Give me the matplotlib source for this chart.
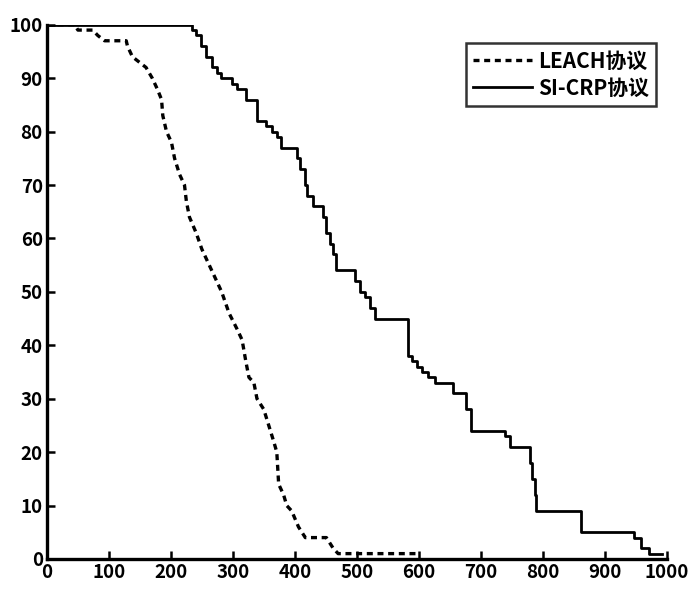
import matplotlib
matplotlib.use("Agg")
import matplotlib.pyplot as plt
from matplotlib import rcParams

rcParams["font.family"] = ["Liberation Sans Narrow", "Noto Sans CJK SC", "DejaVu Sans"]
rcParams["font.weight"] = "bold"

# LEACH protocol: surviving nodes vs. rounds
leach_x = [0, 45, 50, 74, 82, 93, 128, 130, 138, 149, 160, 170, 178, 185, 187,
           193, 201, 206, 214, 222, 225, 230, 241, 250, 258, 266, 274, 282,
           294, 307, 315, 321, 326, 334, 339, 350, 358, 366, 371, 374, 382,
           387, 395, 406, 417, 451, 462, 470, 600]
leach_y = [100, 100, 99, 99, 98, 97, 97, 96, 94, 93, 92, 90, 88, 86, 83,
           80, 78, 75, 72, 70, 67, 64, 61, 58, 56, 54, 52, 50,
           46, 43, 41, 37, 34, 33, 30, 28, 25, 22, 20, 14, 12,
           10, 9, 6, 4, 4, 2, 1, 1]

# SI-CRP protocol (step curve)
sicrp_x = [0, 234, 241, 249, 257, 266, 274, 281, 299, 307, 321, 339, 353, 363,
           371, 377, 403, 409, 417, 419, 430, 446, 451, 457, 462, 466, 498,
           506, 514, 522, 530, 583, 590, 598, 606, 615, 626, 636, 655, 677,
           684, 740, 748, 780, 783, 787, 790, 862, 948, 958, 971, 992]
sicrp_y = [100, 99, 98, 96, 94, 92, 91, 90, 89, 88, 86, 82, 81, 80,
           79, 77, 75, 73, 70, 68, 66, 64, 61, 59, 57, 54, 52,
           50, 49, 47, 45, 38, 37, 36, 35, 34, 33, 33, 31, 28,
           24, 23, 21, 18, 15, 12, 9, 5, 4, 2, 1, 1]

x_ticks = list(range(0, 1001, 100))
y_ticks = list(range(0, 101, 10))

fig = plt.figure(figsize=(6.9, 5.89), dpi=100)
ax = fig.add_axes([0.068, 0.051, 0.898, 0.907])

ax.plot(leach_x, leach_y, color="black", lw=2.4, linestyle=(0, (1.8, 1.4)),
        label="LEACH协议")
ax.plot(sicrp_x, sicrp_y, color="black", lw=2.0, drawstyle="steps-post",
        label="SI-CRP协议")

ax.set_xlim(0, 1000)
ax.set_ylim(0, 100)
ax.set_xticks(x_ticks)
ax.set_yticks(y_ticks)
ax.tick_params(direction="in", length=6, width=1.8, labelsize=13.5, pad=3)
for lab in ax.get_xticklabels() + ax.get_yticklabels():
    lab.set_fontweight("bold")

ax.spines["top"].set_visible(False)
ax.spines["right"].set_visible(False)
ax.spines["left"].set_linewidth(2.4)
ax.spines["bottom"].set_linewidth(2.4)

leg = ax.legend(loc="upper right", bbox_to_anchor=(1.0, 0.985), fontsize=15,
                frameon=True, fancybox=False, handlelength=2.8,
                borderpad=0.35, labelspacing=0.3, handletextpad=0.3)
leg.get_frame().set_edgecolor("black")
leg.get_frame().set_linewidth(1.8)

plt.savefig("out.png", dpi=100)
